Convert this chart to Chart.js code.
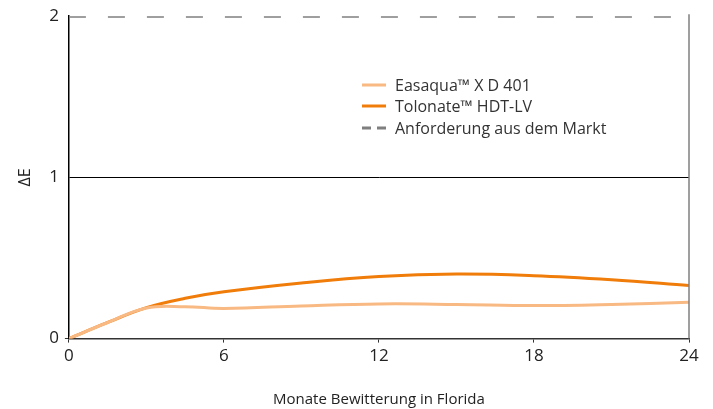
<!DOCTYPE html>
<html><head><meta charset="utf-8">
<script src="https://cdn.jsdelivr.net/npm/chart.js@4"></script>
<style>html,body{margin:0;padding:0;background:#fff}#w{width:713px;height:409px}</style>
</head><body><div id="w"><canvas id="c"></canvas></div>
<script>
const months = [0, 1.5, 3, 4.5, 6, 9, 12, 15, 18, 21, 24];
const easaqua = [0, 0.10, 0.19, 0.198, 0.187, 0.203, 0.215, 0.212, 0.205, 0.212, 0.226];
const tolonate = [0, 0.10, 0.192, 0.25, 0.29, 0.345, 0.385, 0.40, 0.39, 0.365, 0.33];
const reqMonths = [0, 24];
const requirement = [2, 2];
const xTicks = [0, 6, 12, 18, 24];
const yTicks = [0, 1, 2];
const labels = ['Easaqua\u2122 X D 401', 'Tolonate\u2122 HDT-LV', 'Anforderung aus dem Markt'];

const pts = (xs, ys) => xs.map((x, i) => ({x, y: ys[i]}));
const FONT = "'Open Sans', 'Noto Sans', sans-serif";

const extras = {
  id: 'extras',
  afterDraw(chart) {
    const {ctx, chartArea: a} = chart;
    ctx.save();
    ctx.strokeStyle = '#7f7f7f'; ctx.lineWidth = 1.5;
    ctx.beginPath(); ctx.moveTo(a.right, a.top - 2); ctx.lineTo(a.right, a.bottom); ctx.stroke();
    const lx = 362, ly = [85, 106, 128];
    chart.data.datasets.forEach((ds, i) => {
      ctx.strokeStyle = ds.borderColor; ctx.lineWidth = 3;
      ctx.setLineDash(ds.borderDash && ds.borderDash.length ? [9, 6] : []);
      ctx.beginPath(); ctx.moveTo(lx, ly[i]); ctx.lineTo(lx + 24, ly[i]); ctx.stroke();
      ctx.setLineDash([]);
      ctx.fillStyle = '#333'; ctx.font = "16px " + FONT; ctx.textBaseline = 'middle';
      ctx.fillText(ds.label, lx + 33, ly[i] + 1);
    });
    ctx.restore();
  }
};

new Chart(document.getElementById('c'), {
  type: 'line',
  data: {
    datasets: [
      {label: labels[0], data: pts(months, easaqua), borderColor: '#f9b983', borderWidth: 3, pointRadius: 0, tension: 0.4, fill: false},
      {label: labels[1], data: pts(months, tolonate), borderColor: '#f07c0a', borderWidth: 3, pointRadius: 0, tension: 0.4, fill: false},
      {label: labels[2], data: pts(reqMonths, requirement), borderColor: '#7f7f7f', borderWidth: 3, borderDash: [17, 22], pointRadius: 0, fill: false}
    ]
  },
  options: {
    responsive: true, maintainAspectRatio: false, animation: false,
    layout: {padding: {top: 16, right: 24, left: 12, bottom: 0}},
    plugins: {legend: {display: false}, tooltip: {enabled: false}},
    elements: {line: {borderCapStyle: 'butt'}},
    scales: {
      x: {
        type: 'linear', min: 0, max: 24,
        afterBuildTicks: s => { s.ticks = xTicks.map(v => ({value: v})); },
        ticks: {color: '#222', font: {family: FONT, size: 17}, padding: 3},
        grid: {drawOnChartArea: false, tickLength: 4, color: '#333'},
        border: {color: '#333', width: 1.5},
        title: {display: true, text: 'Monate Bewitterung in Florida', color: '#222', font: {family: FONT, size: 15}, padding: {top: 22, bottom: 0}}
      },
      y: {
        min: 0, max: 2,
        afterBuildTicks: s => { s.ticks = yTicks.map(v => ({value: v})); },
        ticks: {color: '#222', font: {family: FONT, size: 17}, padding: 6},
        grid: {
          color: c => c.tick && c.tick.value === 1 ? '#000' : 'rgba(0,0,0,0)',
          tickColor: c => c.tick && c.tick.value === 0 ? '#333' : 'rgba(0,0,0,0)',
          tickLength: 4, lineWidth: 1
        },
        border: {color: '#000', width: 1.5},
        title: {display: true, text: '\u0394E', color: '#222', font: {family: FONT, size: 16}, padding: {bottom: 8}}
      }
    }
  },
  plugins: [extras]
});
</script></body></html>
